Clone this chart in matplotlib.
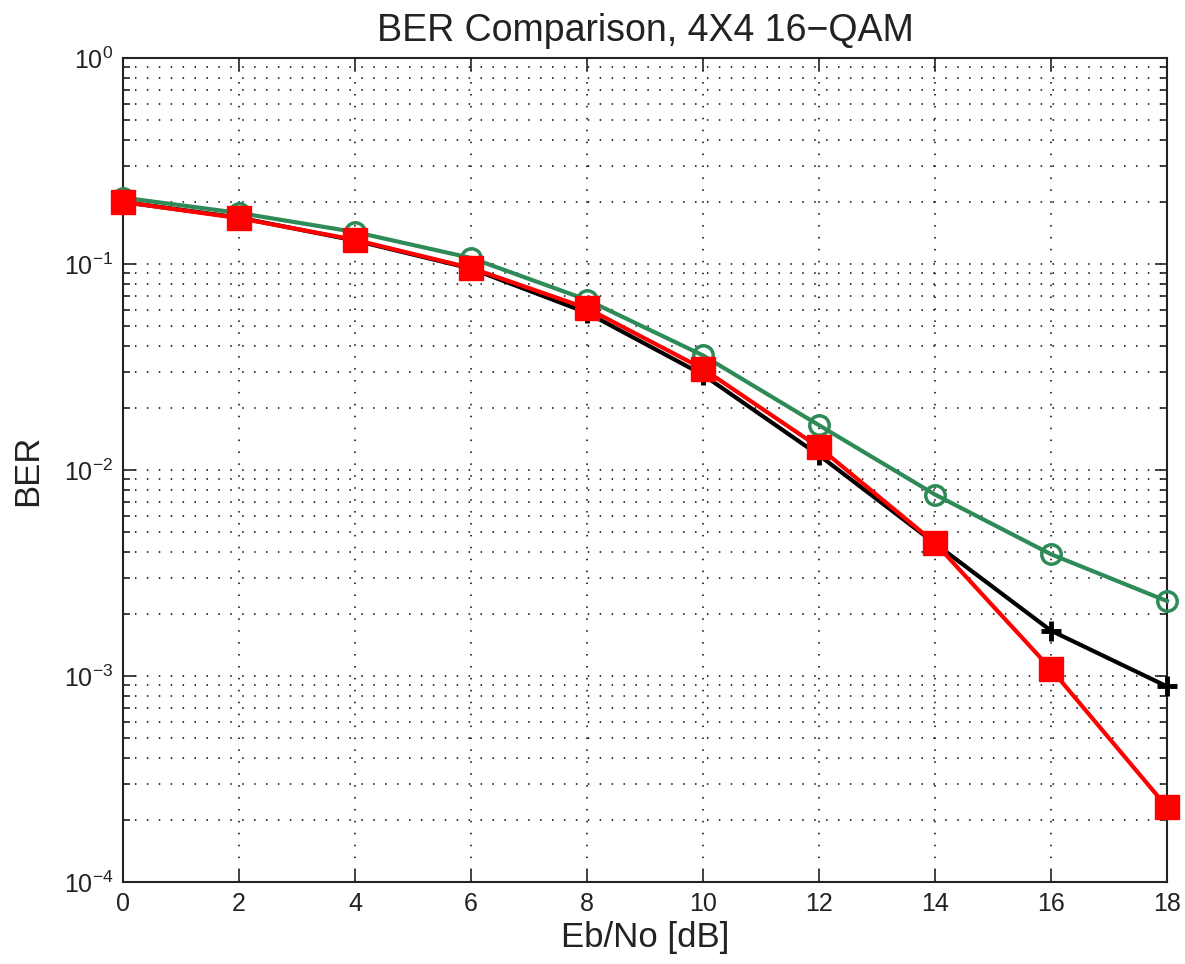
import matplotlib
matplotlib.use('Agg')
import matplotlib.pyplot as plt
from matplotlib.ticker import LogLocator, NullFormatter

plt.rcParams['font.family'] = ['Liberation Sans', 'DejaVu Sans']
plt.rcParams['mathtext.fontset'] = 'custom'
plt.rcParams['mathtext.rm'] = 'Liberation Sans'
plt.rcParams['mathtext.it'] = 'Liberation Sans'

ebno = [0, 2, 4, 6, 8, 10, 12, 14, 16, 18]
ber_green = [0.21, 0.177, 0.143, 0.107, 0.067, 0.036, 0.0165, 0.0076, 0.0039, 0.00231]
ber_black = [0.20, 0.168, 0.130, 0.095, 0.058, 0.029, 0.0118, 0.0044, 0.00166, 0.00089]
ber_red = [0.20, 0.167, 0.131, 0.0957, 0.061, 0.031, 0.0129, 0.00442, 0.00108, 0.000231]

fig = plt.figure(figsize=(11.85, 9.64), dpi=100)
ax = fig.add_axes([0.1038, 0.0851, 0.8810, 0.8547])

ax.semilogy(ebno, ber_green, '-o', color='#2e8b57', lw=3, ms=14,
            mfc='none', mew=2.5, clip_on=False, zorder=3)
ax.semilogy(ebno, ber_black, '-+', color='black', lw=3, ms=14, mew=3.5,
            clip_on=False, zorder=4)
ax.semilogy(ebno, ber_red, '-s', color='red', lw=3, ms=17,
            mfc='red', mec='red', clip_on=False, zorder=5)

ax.set_xlim(0, 18)
ax.set_ylim(1e-4, 1)
ax.set_xticks(range(0, 19, 2))
ax.yaxis.set_major_locator(LogLocator(base=10, numticks=10))
ax.yaxis.set_minor_locator(LogLocator(base=10, subs=range(2, 10), numticks=10))
ax.yaxis.set_minor_formatter(NullFormatter())

# sparse dotted grid, MATLAB style
dots = (0, (1, 6.8))
ax.grid(True, which='major', ls=dots, color='black', lw=1.1)
ax.grid(True, which='minor', axis='y', ls=dots, color='black', lw=1.1)
ax.tick_params(which='both', direction='in', top=True, right=True,
               labelsize=18, width=1.2, colors='#222222', labelcolor='#222222')
ax.tick_params(which='major', length=9, pad=7)
ax.tick_params(which='minor', length=5)
for s in ax.spines.values():
    s.set_linewidth(1.5)
    s.set_color('#222222')

ax.set_title('BER Comparison, 4X4 16\u2212QAM', fontsize=27, pad=12, color='#222222')
ax.set_xlabel('Eb/No [dB]', fontsize=25, labelpad=4, color='#222222')
ax.set_ylabel('BER', fontsize=25, labelpad=14, color='#222222')

fig.savefig('out.png', dpi=100)
